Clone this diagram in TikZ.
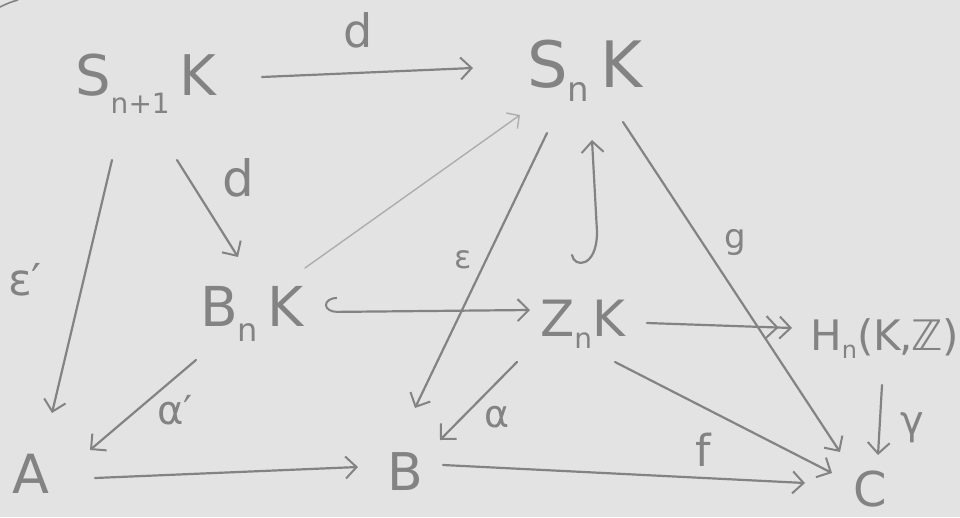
\documentclass[tikz,border=0pt]{standalone}
\usepackage{fontspec}
\setmainfont{DejaVu Sans}
\usetikzlibrary{arrows.meta,calc}
\definecolor{bg}{HTML}{E3E3E3}
\definecolor{ink}{HTML}{838383}
\definecolor{inklight}{HTML}{ADADAD}
\newcommand\sbs[3]{\raisebox{-#1pt}{\fontsize{#2}{#2}\selectfont #3}}
\tikzset{
  obj/.style={anchor=base west, inner sep=0pt, text=ink},
  lbl/.style={inner sep=0pt, text=ink},
  barb/.tip={Straight Barb[length=11pt,width=22pt,line width=2pt]},
  arr/.style={draw=ink, line width=2.2pt, line cap=round, -barb},
  arrlight/.style={draw=inklight, line width=1.4pt, line cap=round, -{Straight Barb[length=9pt,width=19pt,line width=1.4pt]}},
  hookarr/.style={draw=ink, line width=2.2pt, line cap=round, {Hooks[right,length=12pt,width=30pt,line width=2pt]}-barb},
  epiarr/.style={draw=ink, line width=2.2pt, line cap=round, -{barb[]barb[]}},
}
\begin{document}
\begin{tikzpicture}[x=1pt,y=-1pt]
\fill[bg] (0,0) rectangle (960,517);
\useasboundingbox (0,0) rectangle (960,517);
\draw[ink, line width=1.6pt] (0,7) .. controls (6,4) and (12,1.5) .. (18,0);

% objects
\node[obj, font=\fontsize{56}{56}\selectfont] (s1) at (75,95) {S\sbs{18}{28}{n+1}\,K};
\node[obj, font=\fontsize{64}{64}\selectfont] (sn) at (527,87) {S\sbs{14}{34}{n}\,K};
\node[obj, font=\fontsize{55}{55}\selectfont] (bn) at (200,326) {B\sbs{15}{32}{n}\,K};
\node[obj, font=\fontsize{50}{50}\selectfont] (zn) at (540,336) {Z\sbs{12}{28}{n}K};
\node[obj, font=\fontsize{42}{42}\selectfont] (hn) at (810,350) {H\sbs{8}{24}{n}(K\kern-1pt,\kern-2ptℤ)};
\node[obj, font=\fontsize{54}{54}\selectfont] (a) at (12,493) {A};
\node[obj, font=\fontsize{52}{52}\selectfont] (b) at (387,490) {B};
\node[obj, font=\fontsize{48}{48}\selectfont] (c) at (853,506) {C};

% arrows
\draw[arr] ([shift={(187,-18)}]s1.base west) -- ([shift={(-54,-19)}]sn.base west);
\draw[arr] ([shift={(102,65)}]s1.base west) -- ([shift={(38,-69)}]bn.base west);
\draw[arr] ([shift={(37,65)}]s1.base west) -- ([shift={(40,-80)}]a.base west);
\draw[arrlight] ([shift={(105,-58)}]bn.base west) -- ([shift={(-7,28)}]sn.base west);
\draw[arr] ([shift={(20,46)}]sn.base west) -- ([shift={(28,-82)}]b.base west);
\draw[arr] ([shift={(96,35)}]sn.base west) -- ([shift={(-13,-54)}]c.base west);
\draw[draw=ink, line width=2.2pt, line cap=round, -barb]
  ([shift={(32,-81)}]zn.base west) .. controls +(2,13) and +(0,36) .. ([shift={(57,-104)}]zn.base west)
  -- ([shift={(65,53)}]sn.base west);
\draw[hookarr] ([shift={(125,-14)}]bn.base west) -- ([shift={(-10,-26)}]zn.base west);
\draw[epiarr] ([shift={(107,-13)}]zn.base west) -- ([shift={(-18,-22)}]hn.base west);
\draw[arr] ([shift={(72,35)}]hn.base west) -- ([shift={(25,-51)}]c.base west);
\draw[arr] ([shift={(-4,34)}]bn.base west) -- ([shift={(78,-43)}]a.base west);
\draw[arr] ([shift={(-23,26)}]zn.base west) -- ([shift={(53,-50)}]b.base west);
\draw[arr] ([shift={(75,26)}]zn.base west) -- ([shift={(-21,-33)}]c.base west);
\draw[arr] ([shift={(83,-15)}]a.base west) -- ([shift={(-29,-23)}]b.base west);
\draw[arr] ([shift={(56,-25)}]b.base west) -- ([shift={(-48,-23)}]c.base west);

% labels
\node[lbl, font=\fontsize{46}{46}\selectfont] (ld1) at (358,30) {d};
\node[lbl, font=\fontsize{50}{50}\selectfont] (ld2) at (238,178) {d};
\node[lbl, font=\fontsize{44}{44}\selectfont] (lep1) at (25,280) {ε′};
\node[lbl, font=\fontsize{40}{40}\selectfont] (lal1) at (175,410) {α′};
\node[lbl, font=\fontsize{32}{32}\selectfont] (lep) at (463,260) {ε};
\node[lbl, font=\fontsize{34}{34}\selectfont] (lg) at (735,243) {g};
\node[lbl, font=\fontsize{38}{38}\selectfont] (lal) at (497,417) {α};
\node[lbl, font=\fontsize{44}{44}\selectfont] (lf) at (703,450) {f};
\node[lbl, font=\fontsize{40}{40}\selectfont] (lga) at (912,428) {γ};
\end{tikzpicture}
\end{document}
